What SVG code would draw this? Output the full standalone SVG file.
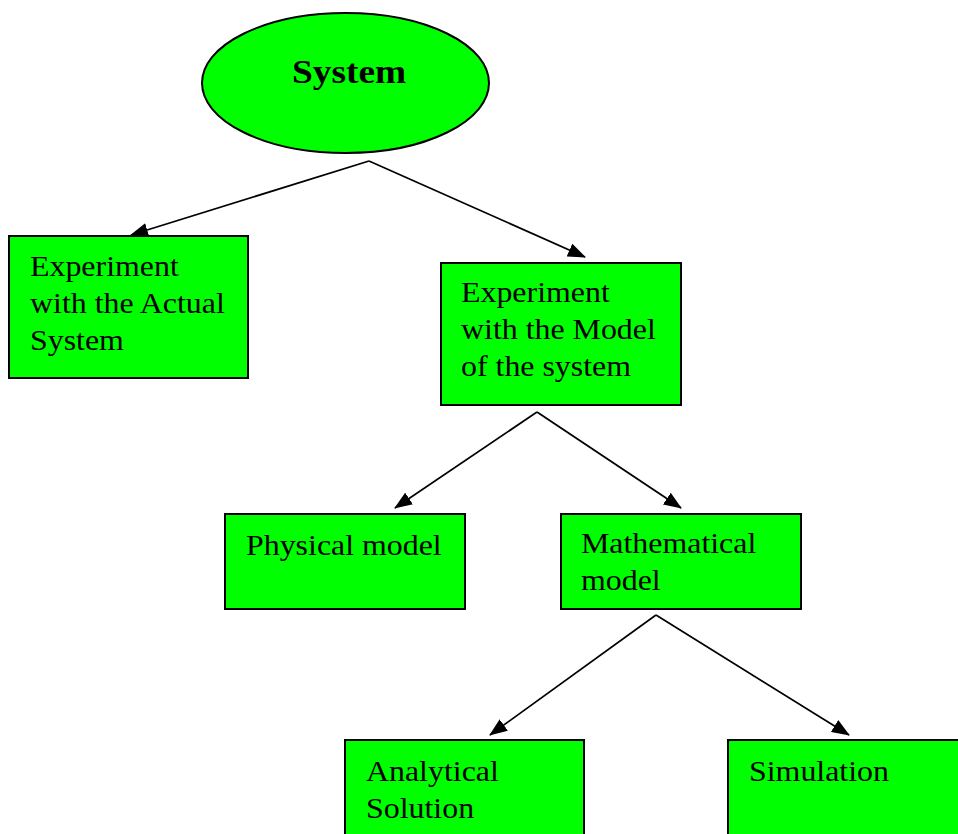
<svg xmlns="http://www.w3.org/2000/svg" width="958" height="834" viewBox="0 0 958 834">
<style>
.box{fill:#00ff00;stroke:#000;stroke-width:2}
.t{font-family:"Liberation Serif","Times New Roman",serif;font-size:29px;fill:#000}
.c{stroke:#000;stroke-width:1.7;fill:none;marker-end:url(#ah)}
</style>
<defs>
<marker id="ah" markerWidth="18" markerHeight="14" refX="17" refY="7" orient="auto" markerUnits="userSpaceOnUse">
<path d="M0,0 L18,7 L0,14 Z" fill="#000"/>
</marker>
</defs>
<rect width="958" height="834" fill="#fff"/>
<g id="connectors">
<line class="c" x1="369" y1="161" x2="131" y2="235"/>
<line class="c" x1="369" y1="161" x2="585" y2="257"/>
<line class="c" x1="537" y1="412" x2="395" y2="508"/>
<line class="c" x1="537" y1="412" x2="681" y2="508"/>
<line class="c" x1="656" y1="615" x2="490" y2="735"/>
<line class="c" x1="656" y1="615" x2="849" y2="735"/>
</g>
<g id="system">
<ellipse cx="345.5" cy="83" rx="143.5" ry="70" class="box"/>
<text class="t" style="font-weight:bold;font-size:34px" transform="translate(292,83) scale(1.1,1)">System</text>
</g>
<g id="actual">
<rect x="9" y="236" width="239" height="142" class="box"/>
<text class="t" transform="translate(30,276) scale(1.1,1)">Experiment</text>
<text class="t" transform="translate(30,313) scale(1.1,1)">with the Actual</text>
<text class="t" transform="translate(30,350) scale(1.1,1)">System</text>
</g>
<g id="model">
<rect x="441" y="263" width="240" height="142" class="box"/>
<text class="t" transform="translate(461,302) scale(1.1,1)">Experiment</text>
<text class="t" transform="translate(461,339) scale(1.1,1)">with the Model</text>
<text class="t" transform="translate(461,376) scale(1.1,1)">of the system</text>
</g>
<g id="physical">
<rect x="225" y="514" width="240" height="95" class="box"/>
<text class="t" transform="translate(246,555) scale(1.1,1)">Physical model</text>
</g>
<g id="mathematical">
<rect x="561" y="514" width="240" height="95" class="box"/>
<text class="t" transform="translate(581,553) scale(1.1,1)">Mathematical</text>
<text class="t" transform="translate(581,590) scale(1.1,1)">model</text>
</g>
<g id="analytical">
<rect x="345" y="740" width="239" height="110" class="box"/>
<text class="t" transform="translate(366,781) scale(1.1,1)">Analytical</text>
<text class="t" transform="translate(366,818) scale(1.1,1)">Solution</text>
</g>
<g id="simulation">
<rect x="728" y="740" width="250" height="110" class="box"/>
<text class="t" transform="translate(749,781) scale(1.1,1)">Simulation</text>
</g>
</svg>
